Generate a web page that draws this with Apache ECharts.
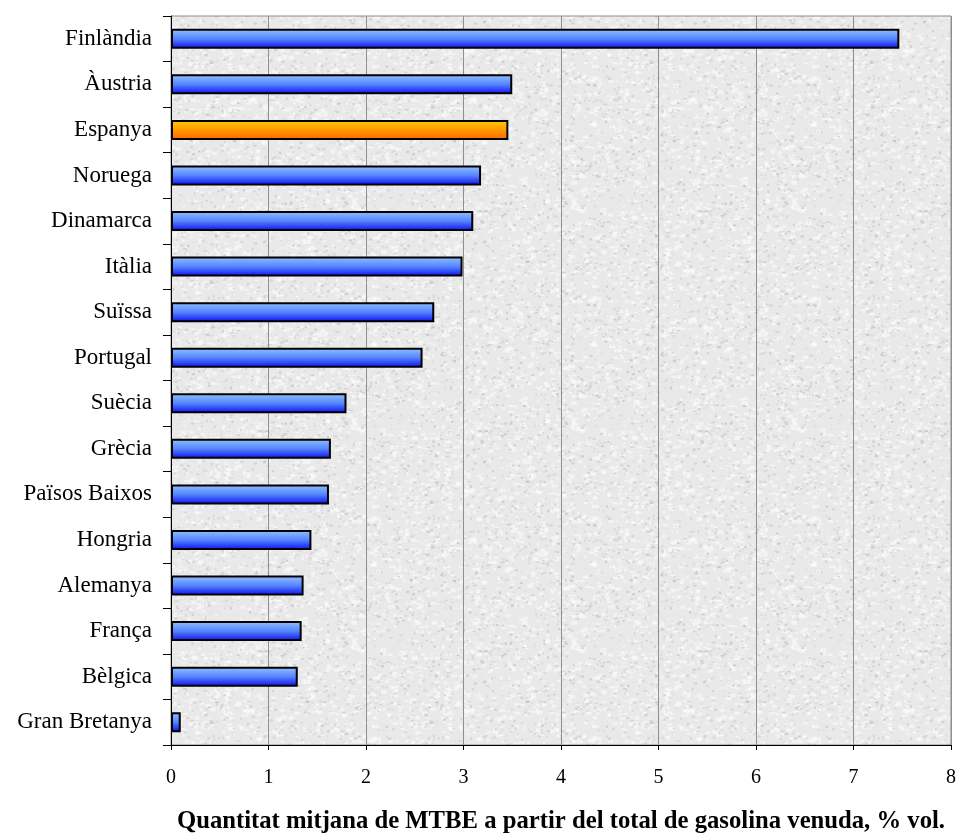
<!DOCTYPE html>
<html>
<head>
<meta charset="utf-8">
<script src="https://cdn.jsdelivr.net/npm/echarts@6/dist/echarts.min.js"></script>
<style>
  html, body { margin: 0; padding: 0; background: #ffffff; }
  #chart { width: 959px; height: 839px; }
</style>
</head>
<body>
<div id="chart"></div>
<script>
// Countries, top to bottom
const countries = [
  'Finlàndia', 'Àustria', 'Espanya', 'Noruega', 'Dinamarca', 'Itàlia',
  'Suïssa', 'Portugal', 'Suècia', 'Grècia', 'Països Baixos', 'Hongria',
  'Alemanya', 'França', 'Bèlgica', 'Gran Bretanya'
];
// Average MTBE share of total petrol sold, % vol.
const mtbeShare = [
  7.47, 3.50, 3.46, 3.18, 3.10, 2.99,
  2.70, 2.58, 1.80, 1.64, 1.62, 1.44,
  1.36, 1.34, 1.30, 0.10
];
const highlighted = 'Espanya';
const xTicks = [0, 1, 2, 3, 4, 5, 6, 7, 8];
const axisTitle = 'Quantitat mitjana de MTBE a partir del total de gasolina venuda, % vol.';

// Granite-like paper texture for the plot background
function makeTexture() {
  const size = 220;
  const c = document.createElement('canvas');
  c.width = size; c.height = size;
  const ctx = c.getContext('2d');
  ctx.fillStyle = '#e9e9e9';
  ctx.fillRect(0, 0, size, size);
  let s = 987654;
  const rnd = () => { s = (s * 1103515245 + 12345) & 0x7fffffff; return s / 0x7fffffff; };
  // soft light patches
  for (let i = 0; i < 1100; i++) {
    const x = rnd() * size, y = rnd() * size;
    ctx.fillStyle = 'rgba(252,252,252,0.6)';
    ctx.fillRect(x, y, 2 + rnd() * 4, 1 + rnd() * 3);
  }
  // darker grey flecks
  for (let i = 0; i < 1200; i++) {
    const x = rnd() * size, y = rnd() * size;
    const g = Math.round(180 + rnd() * 45);
    ctx.fillStyle = 'rgba(' + g + ',' + g + ',' + g + ',0.55)';
    ctx.fillRect(x, y, 1 + rnd() * 2.5, 1 + rnd() * 1.5);
  }
  return c;
}

const blueFill = {
  type: 'linear', x: 0, y: 0, x2: 0, y2: 1,
  colorStops: [
    { offset: 0, color: '#93c2ff' },
    { offset: 0.5, color: '#5585ff' },
    { offset: 1, color: '#0c0cf0' }
  ]
};
const orangeFill = {
  type: 'linear', x: 0, y: 0, x2: 0, y2: 1,
  colorStops: [
    { offset: 0, color: '#ffcc00' },
    { offset: 0.5, color: '#ff9a00' },
    { offset: 1, color: '#ff6400' }
  ]
};

const chart = echarts.init(document.getElementById('chart'), null, { renderer: 'canvas' });
const serif = '"Liberation Serif", "DejaVu Serif", serif';

chart.setOption({
  animation: false,
  grid: {
    left: 171, right: 6, top: 16, bottom: 91,
    show: true,
    borderColor: '#8c8c8c',
    borderWidth: 1,
    backgroundColor: { image: makeTexture(), repeat: 'repeat' }
  },
  xAxis: {
    type: 'value',
    min: xTicks[0],
    max: xTicks[xTicks.length - 1],
    interval: 1,
    axisLine: { show: true, lineStyle: { color: '#000', width: 1 } },
    axisTick: { show: true, length: 5, lineStyle: { color: '#000' } },
    axisLabel: { color: '#000', fontFamily: serif, fontSize: 20, margin: 23 },
    splitLine: { show: true, lineStyle: { color: '#8f8f8f', width: 1 } },
    name: axisTitle,
    nameLocation: 'middle',
    nameGap: 64,
    nameTextStyle: { color: '#000', fontFamily: serif, fontSize: 24.7, fontWeight: 'bold' }
  },
  yAxis: {
    type: 'category',
    data: countries,
    inverse: true,
    axisLine: { show: true, lineStyle: { color: '#000', width: 1 } },
    axisTick: { show: true, length: 8, lineStyle: { color: '#000' } },
    axisLabel: { color: '#000', fontFamily: serif, fontSize: 23, margin: 19 },
    splitLine: { show: false }
  },
  series: [{
    type: 'bar',
    data: mtbeShare.map((v, i) => ({
      value: v,
      itemStyle: { color: countries[i] === highlighted ? orangeFill : blueFill }
    })),
    barWidth: 20,
    itemStyle: { borderColor: '#000', borderWidth: 2 }
  }]
});
</script>
</body>
</html>
